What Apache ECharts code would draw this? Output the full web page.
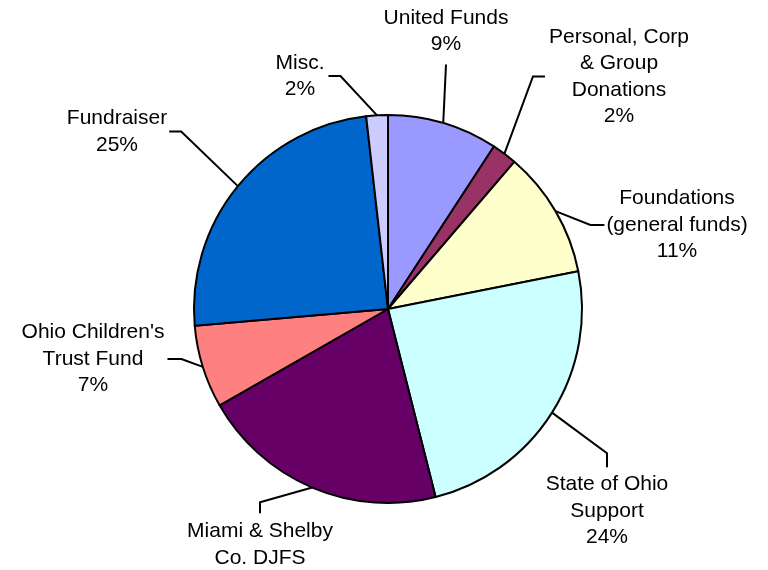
<!DOCTYPE html>
<html><head><meta charset="utf-8">
<script src="https://cdn.jsdelivr.net/npm/echarts@6/dist/echarts.min.js"></script>
<style>html,body{margin:0;padding:0;background:#fff}#c{width:768px;height:570px}</style>
</head><body><div id="c"></div>
<script>
// Data
const categories = ['United Funds', 'Personal, Corp\n& Group\nDonations', 'Foundations\n(general funds)', 'State of Ohio\nSupport', 'Miami & Shelby\nCo. DJFS', "Ohio Children's\nTrust Fund", 'Fundraiser', 'Misc.'];
const values = [9.2, 2.1, 10.6, 24.2, 20.7, 6.9, 24.6, 1.8];
const colors = ['#9999FF', '#993366', '#FFFFCC', '#CCFFFF', '#660066', '#FF8080', '#0066CC', '#CCCCFF'];

// Label layout (not data)
const labelCenters = [[446, 31], [619, 76.5], [677, 225], [607, 511], [260, 558], [93, 359], [117, 131.5], [300, 76]];
const lineSides = ['bottom', 'left', 'left', 'top', 'top', 'right', 'right', 'right'];
const lineGaps = [7, 4, 2, 4, 5, 3, 2, 4];
const bendLengths = [0, 12, 14, 14, 11, 14, 12, 12];

const chart = echarts.init(document.getElementById('c'), null, {renderer: 'canvas'});
const CX = 388, CY = 309, R = 194;

const total = values.reduce((a, b) => a + b, 0);

chart.setOption({
  animation: false,
  backgroundColor: '#fff',
  series: [{
    type: 'pie',
    center: [CX, CY],
    radius: [0, R],
    startAngle: 90,
    clockwise: true,
    avoidLabelOverlap: false,
    data: categories.map((n, i) => ({name: n, value: values[i], itemStyle: {color: colors[i]}})),
    itemStyle: {borderColor: '#000', borderWidth: 2},
    emphasis: {disabled: true},
    label: {
      show: true,
      position: 'outside',
      color: '#000',
      fontFamily: 'Liberation Sans, Arial, sans-serif',
      fontSize: 21,
      lineHeight: 26.5,
      align: 'center',
      formatter: p => p.name + '\n' + Math.round(p.value / total * 100) + '%'
    },
    labelLine: {show: true, lineStyle: {color: '#000', width: 2}},
    labelLayout: function (params) {
      const i = params.dataIndex;
      const c = labelCenters[i];
      const w = params.labelRect.width, h = params.labelRect.height;
      let anchor;
      if (params.labelLinePoints && params.labelLinePoints[0]) {
        anchor = params.labelLinePoints[0];
      } else {
        let before = 0;
        for (let k = 0; k < i; k++) before += values[k];
        const mid = (before + values[i] / 2) / total * Math.PI * 2;
        anchor = [CX + R * Math.sin(mid), CY - R * Math.cos(mid)];
      }
      const g = lineGaps[i], b = bendLengths[i];
      let end, bend;
      switch (lineSides[i]) {
        case 'bottom': end = [c[0], c[1] + h / 2 + g]; bend = [end[0], end[1] + b]; break;
        case 'top': end = [c[0], c[1] - h / 2 - g]; bend = [end[0], end[1] - b]; break;
        case 'left': end = [c[0] - w / 2 - g, c[1]]; bend = [end[0] - b, end[1]]; break;
        default: end = [c[0] + w / 2 + g, c[1]]; bend = [end[0] + b, end[1]];
      }
      return {
        x: c[0], y: c[1], align: 'center', verticalAlign: 'middle',
        labelLinePoints: [anchor, bend, end]
      };
    }
  }]
});
</script></body></html>
